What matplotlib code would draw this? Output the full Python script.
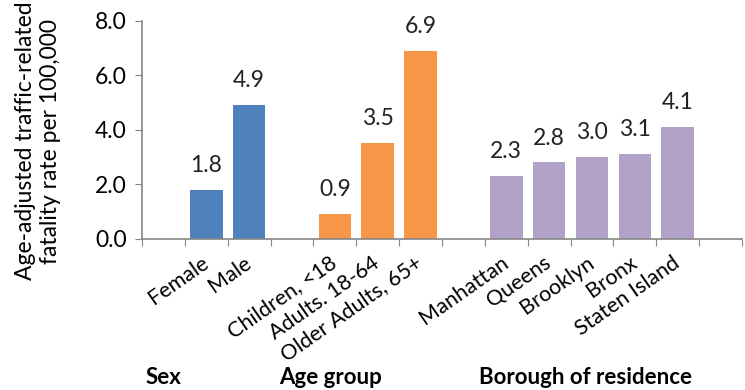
import matplotlib.pyplot as plt
import matplotlib.transforms as mtransforms

#------------------------ datos ----------------------------

sex_labels = ["Female", "Male"]
sex_vals = [1.8, 4.9]
age_labels = ["Children, <18", "Adults. 18-64", "Older Adults, 65+"]
age_vals = [0.9, 3.5, 6.9]
boro_labels = ["Manhattan", "Queens", "Brooklyn", "Bronx", "Staten Island"]
boro_vals = [2.3, 2.8, 3.0, 3.1, 4.1]
group_names = ["Sex", "Age group", "Borough of residence"]

colors = ["#4F81BD", "#F79646", "#B3A2C7"]
group_x = [0.0, 3.9, 9.85]

plt.rcParams['font.family'] = ['Lato', 'DejaVu Sans']

#------------------------ grafico ----------------------------

fig = plt.figure(figsize=(7.45, 3.9), dpi=100)
ax = fig.add_axes([142/745, 1-238.7/390, 600/745, 218/390])

groups = [(sex_labels, sex_vals), (age_labels, age_vals), (boro_labels, boro_vals)]
start = 1
centers = []
names = []
for (labs, vals), col in zip(groups, colors):
    xs = list(range(start, start + len(vals)))
    ax.bar(xs, vals, width=0.76, color=col)
    for x, v in zip(xs, vals):
        ax.annotate(f"{v:.1f}", (x, v), xytext=(0, 10), textcoords="offset points",
                    ha="center", va="bottom", fontsize=16.5, color="#222222")
    centers += xs
    names += labs
    start += len(vals) + 1

# start queda en 14 -> 14 casilleros de -0.5 a 13.5
ax.set_xlim(-0.5, start - 0.5)
ax.set_ylim(0, 8)
ax.set_yticks([0, 2, 4, 6, 8])
ax.set_yticklabels([f"{t:.1f}" for t in [0, 2, 4, 6, 8]], fontsize=16.5)

ax.set_xticks([i - 0.5 for i in range(start + 1)])
ax.set_xticklabels([])
ax.set_xticks(centers, minor=True)
ax.set_xticklabels(names, minor=True, rotation=35, ha="right", va="center",
                   rotation_mode="anchor", fontsize=15.5)
ax.tick_params(axis="x", which="minor", length=0, pad=16)
ax.tick_params(axis="x", which="major", length=5, color="#868686", direction="out")
ax.tick_params(axis="y", length=5, color="#868686", direction="out", pad=6)

for s in ["top", "right"]:
    ax.spines[s].set_visible(False)
for s in ["left", "bottom"]:
    ax.spines[s].set_color("#868686")
    ax.spines[s].set_linewidth(1.2)

trans = mtransforms.blended_transform_factory(ax.transData, fig.transFigure)
for gx, g in zip(group_x, group_names):
    ax.text(gx, 1 - 377/390, g, transform=trans, ha="center", va="center",
            fontsize=16, fontweight="bold")

fig.text(38/745, 1 - 141/390, "Age-adjusted traffic-related\nfatality rate per 100,000",
         rotation=90, ha="center", va="center", multialignment="center", fontsize=16.5,
         linespacing=1.2)

fig.savefig("out.png", dpi=100)
